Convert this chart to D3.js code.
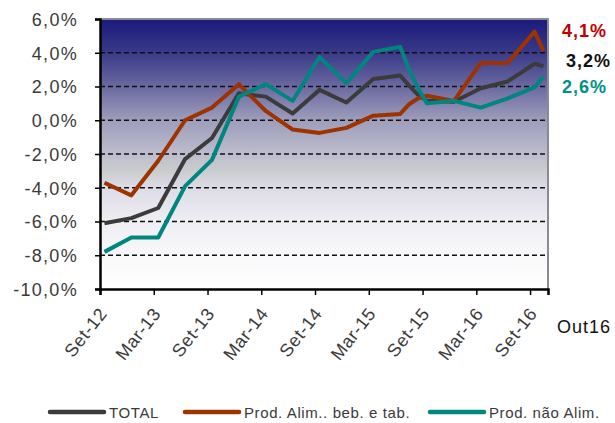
<!DOCTYPE html>
<html>
<head>
<meta charset="utf-8">
<script src="https://cdn.jsdelivr.net/npm/d3@7"></script>
<style>
body{margin:0;background:#fff;}
svg text{font-family:"Liberation Sans",Arial,sans-serif;}
</style>
</head>
<body>
<svg id="chart" width="615" height="423"></svg>
<script>
// months counted from Set-12 (0)
var months = [0,3,6,9,12,15,18,21,24,27,30,33,34,35,36,39,42,45,48,49];
var total = [-6.1,-5.8,-5.2,-2.3,-1.05,1.6,1.4,0.4,1.8,1.05,2.45,2.65,2.05,1.5,1.15,1.1,1.9,2.3,3.35,3.2];
var alim = [-3.7,-4.45,-2.4,0.0,0.75,2.14,0.55,-0.55,-0.75,-0.45,0.27,0.37,0.95,1.3,1.45,1.15,3.4,3.4,5.25,4.1];
var naoAlim = [-7.8,-6.95,-6.95,-3.9,-2.35,1.4,2.14,1.15,3.75,2.2,4.05,4.35,3.0,1.9,1.0,1.15,0.75,1.3,1.95,2.6];
var seriesNames = ["TOTAL","Prod. Alim.. beb. e tab.","Prod. não Alim."];
var endLabels = ["3,2%","4,1%","2,6%"];
var xTickMonths = [0,6,12,18,24,30,36,42,48];
var xTickLabels = ["Set-12","Mar-13","Set-13","Mar-14","Set-14","Mar-15","Set-15","Mar-16","Set-16"];
var yTicks = [6,4,2,0,-2,-4,-6,-8,-10];

var colors = ["#3b3b3b","#9c3300","#00857f"];
var labelColors = ["#111111","#c00000","#009088"];

var svg = d3.select("#chart");
var pLeft = 100, pRight = 548, pTop = 19, pBottom = 289;

var x = d3.scaleLinear().domain([0,50]).range([pLeft,pRight]);
var y = d3.scaleLinear().domain([-10,6]).range([pBottom,pTop]);

var fmt = function(d){ return d.toFixed(1).replace(".",",") + "%"; };

// background gradient
var grad = svg.append("defs").append("linearGradient")
    .attr("id","bg").attr("x1",0).attr("y1",0).attr("x2",0).attr("y2",1);
[[0,"#1a1a7c"],[0.12,"#383888"],[0.25,"#6a69a0"],[0.37,"#9c9bba"],[0.5,"#bdbdcd"],
 [0.56,"#c9cccd"],[0.62,"#dcdbe6"],[0.75,"#eeeef3"],[0.87,"#f8f8fa"],[1,"#ffffff"]]
.forEach(function(s){
    grad.append("stop").attr("offset",s[0]).attr("stop-color",s[1]);
});

svg.append("rect")
    .attr("x",pLeft).attr("y",pTop)
    .attr("width",pRight-pLeft).attr("height",pBottom-pTop)
    .attr("fill","url(#bg)");

// grid
svg.append("g").selectAll("line")
    .data(yTicks.filter(function(d){ return d<6 && d>-10; }))
    .enter().append("line")
    .attr("x1",pLeft).attr("x2",pRight)
    .attr("y1",function(d){ return y(d); })
    .attr("y2",function(d){ return y(d); })
    .attr("stroke","#111").attr("stroke-width",1.3)
    .attr("stroke-dasharray","5,3");

// top / right border
svg.append("path")
    .attr("d","M"+pLeft+","+pTop+"H"+pRight+"V"+pBottom)
    .attr("fill","none").attr("stroke","#8a8a96").attr("stroke-width",2);

// series
var line = d3.line()
    .x(function(d,i){ return x(months[i]+0.5); })
    .y(function(d){ return y(d); });

[total, alim, naoAlim].forEach(function(s,i){
    svg.append("path")
        .datum(s)
        .attr("d",line)
        .attr("fill","none")
        .attr("stroke",colors[i])
        .attr("stroke-width",4)
        .attr("stroke-linejoin","round");
});

// y axis
var yAxis = svg.append("g")
    .attr("transform","translate("+pLeft+",0)")
    .call(d3.axisLeft(y).tickValues(yTicks).tickSize(5).tickPadding(17).tickFormat(fmt));
yAxis.select(".domain").attr("stroke","#000").attr("stroke-width",2.5);
yAxis.selectAll(".tick line").attr("stroke","#000").attr("stroke-width",1.5);
yAxis.selectAll("text")
    .attr("font-size","18px").attr("fill","#3a3a3a")
    .attr("font-family","Liberation Sans, Arial, sans-serif")
    .style("letter-spacing","1.3px")
    .attr("dy","0.35em");

// x axis
var xAxis = svg.append("g")
    .attr("transform","translate(0,"+pBottom+")")
    .call(d3.axisBottom(x).tickValues(xTickMonths).tickSize(6).tickFormat(""));
xAxis.select(".domain").attr("stroke","#000").attr("stroke-width",2.5);
xAxis.selectAll(".tick line").attr("stroke","#000").attr("stroke-width",1.5);

svg.append("g").selectAll("text")
    .data(xTickMonths)
    .enter().append("text")
    .attr("transform",function(d){ return "translate("+(x(d)-2)+","+(pBottom+17)+") rotate(-52)"; })
    .attr("text-anchor","end")
    .attr("dy","0.7em")
    .attr("font-size","18px")
    .attr("fill","#3a3a3a")
    .style("letter-spacing","0.6px")
    .text(function(d,i){ return xTickLabels[i]; });

svg.append("text")
    .attr("x",557).attr("y",333)
    .attr("font-size","18px").attr("fill","#111")
    .style("letter-spacing","1px")
    .text("Out16");

// end labels
var endY = [61,31,87];
var endX = [566,562,562];
endLabels.forEach(function(t,i){
    svg.append("text")
        .attr("x",endX[i]).attr("y",endY[i])
        .attr("dy","0.35em")
        .attr("font-size","18px").attr("font-weight","bold")
        .attr("fill",labelColors[i])
        .style("letter-spacing","1px")
        .text(t);
});

// legend
var legX = [50,185,430];
var leg = svg.append("g");
seriesNames.forEach(function(n,i){
    leg.append("line")
        .attr("x1",legX[i]).attr("x2",legX[i]+54)
        .attr("y1",412).attr("y2",412)
        .attr("stroke",colors[i]).attr("stroke-width",4.5)
        .attr("stroke-linecap","round");
    leg.append("text")
        .attr("x",legX[i]+59).attr("y",418)
        .attr("font-size","15px").attr("fill","#3a3a3a")
        .style("letter-spacing","0.6px")
        .text(n);
});
</script>
</body>
</html>
